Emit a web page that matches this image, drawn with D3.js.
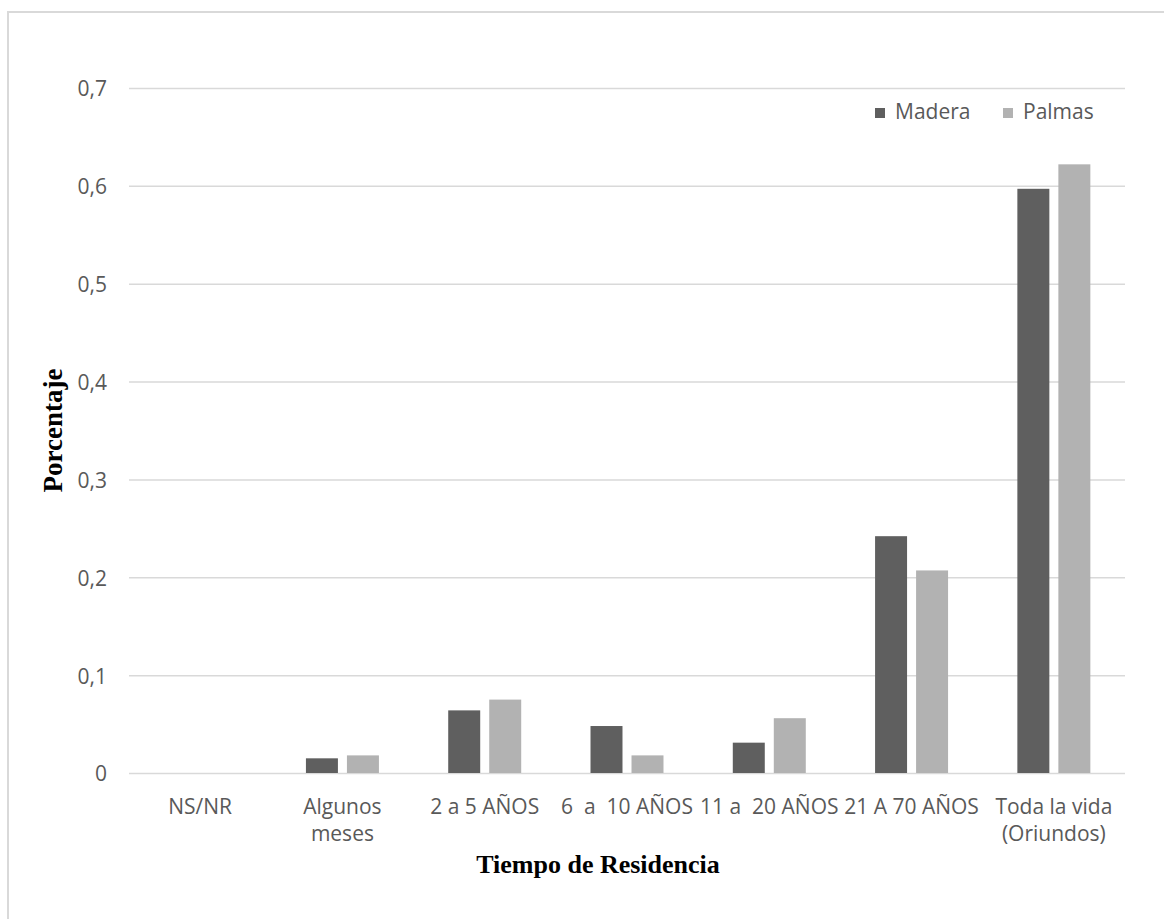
<!DOCTYPE html>
<html>
<head>
<meta charset="utf-8">
<script src="https://cdnjs.cloudflare.com/ajax/libs/d3/7.8.5/d3.min.js"></script>
<style>
  html, body { margin: 0; padding: 0; background: #fff; }
  svg { display: block; }
  text { white-space: pre; }
</style>
</head>
<body>
<svg id="chart" width="1164" height="919"></svg>
<script>
const categories = ["NS/NR", "Algunos meses", "2 a 5 AÑOS", "6  a  10 AÑOS", "11 a  20 AÑOS", "21 A 70 AÑOS", "Toda la vida (Oriundos)"];
const categoryLines = [["NS/NR"], ["Algunos", "meses"], ["2 a 5 AÑOS"], ["6  a  10 AÑOS"], ["11 a  20 AÑOS"], ["21 A 70 AÑOS"], ["Toda la vida", "(Oriundos)"]];
const seriesNames = ["Madera", "Palmas"];
const madera = [0, 0.015, 0.064, 0.048, 0.031, 0.242, 0.597];
const palmas = [0, 0.018, 0.075, 0.018, 0.056, 0.207, 0.622];
const tickValues = [0, 0.1, 0.2, 0.3, 0.4, 0.5, 0.6, 0.7];
const tickLabels = ["0", "0,1", "0,2", "0,3", "0,4", "0,5", "0,6", "0,7"];
const yTitle = "Porcentaje";
const xTitle = "Tiempo de Residencia";

const colors = { Madera: "#5f5f5f", Palmas: "#b2b2b2" };
const font = "'Open Sans', 'DejaVu Sans', sans-serif";
const serif = "'Liberation Serif', 'Times New Roman', serif";
const textColor = "#595959";
const fontSize = "21px";

const svg = d3.select("#chart");

// outer frame
svg.append("rect")
  .attr("x", 8).attr("y", 12)
  .attr("width", 1170).attr("height", 930)
  .attr("fill", "none").attr("stroke", "#d9d9d9").attr("stroke-width", 2);

const plot = { left: 129, right: 1125, top: 88, bottom: 773 };

const x = d3.scaleBand().domain(categories).range([plot.left, plot.right]).padding(0);
const bw = x.bandwidth();
const x1 = d3.scaleBand().domain(seriesNames)
  .range([bw * 0.2435, bw * 0.7565]).paddingInner(0.22).paddingOuter(0);
const y = d3.scaleLinear().domain([0, 0.7]).range([plot.bottom, plot.top]);

// gridlines + y labels via axis
const yAxis = d3.axisLeft(y)
  .tickValues(tickValues)
  .tickSize(-(plot.right - plot.left))
  .tickPadding(22)
  .tickFormat((d, i) => tickLabels[i]);

const gy = svg.append("g")
  .attr("transform", `translate(${plot.left},0)`)
  .call(yAxis);
gy.select(".domain").remove();
gy.selectAll(".tick line").attr("stroke", "#d9d9d9").attr("stroke-width", 1.5);
gy.selectAll(".tick text")
  .attr("fill", textColor)
  .style("font-family", font)
  .style("font-size", fontSize)
  .attr("dy", "0.38em");

// bars
const data = categories.map((c, i) => ({ cat: c, values: [
  { key: "Madera", value: madera[i] },
  { key: "Palmas", value: palmas[i] }
]}));

const groups = svg.append("g").selectAll("g")
  .data(data).join("g")
  .attr("transform", d => `translate(${x(d.cat)},0)`);

groups.selectAll("rect")
  .data(d => d.values).join("rect")
  .attr("x", d => x1(d.key))
  .attr("width", x1.bandwidth())
  .attr("y", d => y(d.value))
  .attr("height", d => y(0) - y(d.value))
  .attr("fill", d => colors[d.key]);

// x category labels
const xl = svg.append("g");
categories.forEach((c, i) => {
  const t = xl.append("text")
    .attr("x", x(c) + bw / 2)
    .attr("y", plot.bottom + 41)
    .attr("text-anchor", "middle")
    .attr("fill", textColor)
    .style("font-family", font)
    .style("font-size", fontSize);
  categoryLines[i].forEach((line, j) => {
    t.append("tspan")
      .attr("x", x(c) + bw / 2)
      .attr("dy", j === 0 ? 0 : 27)
      .text(line);
  });
});

// axis titles
svg.append("text")
  .attr("transform", `translate(62,${(plot.top + plot.bottom) / 2}) rotate(-90)`)
  .attr("text-anchor", "middle")
  .attr("fill", "#000")
  .style("font-family", serif)
  .style("font-weight", "bold")
  .style("font-size", "27px")
  .text(yTitle);

svg.append("text")
  .attr("x", 598)
  .attr("y", 873)
  .attr("text-anchor", "middle")
  .attr("fill", "#000")
  .style("font-family", serif)
  .style("font-weight", "bold")
  .style("font-size", "26px")
  .text(xTitle);

// legend
const legendX = [875, 1003];
const legend = svg.append("g");
seriesNames.forEach((s, i) => {
  legend.append("rect")
    .attr("x", legendX[i]).attr("y", 108)
    .attr("width", 10).attr("height", 10)
    .attr("fill", colors[s]);
  legend.append("text")
    .attr("x", legendX[i] + 20).attr("y", 119)
    .attr("fill", textColor)
    .style("font-family", font)
    .style("font-size", fontSize)
    .text(s);
});
</script>
</body>
</html>
